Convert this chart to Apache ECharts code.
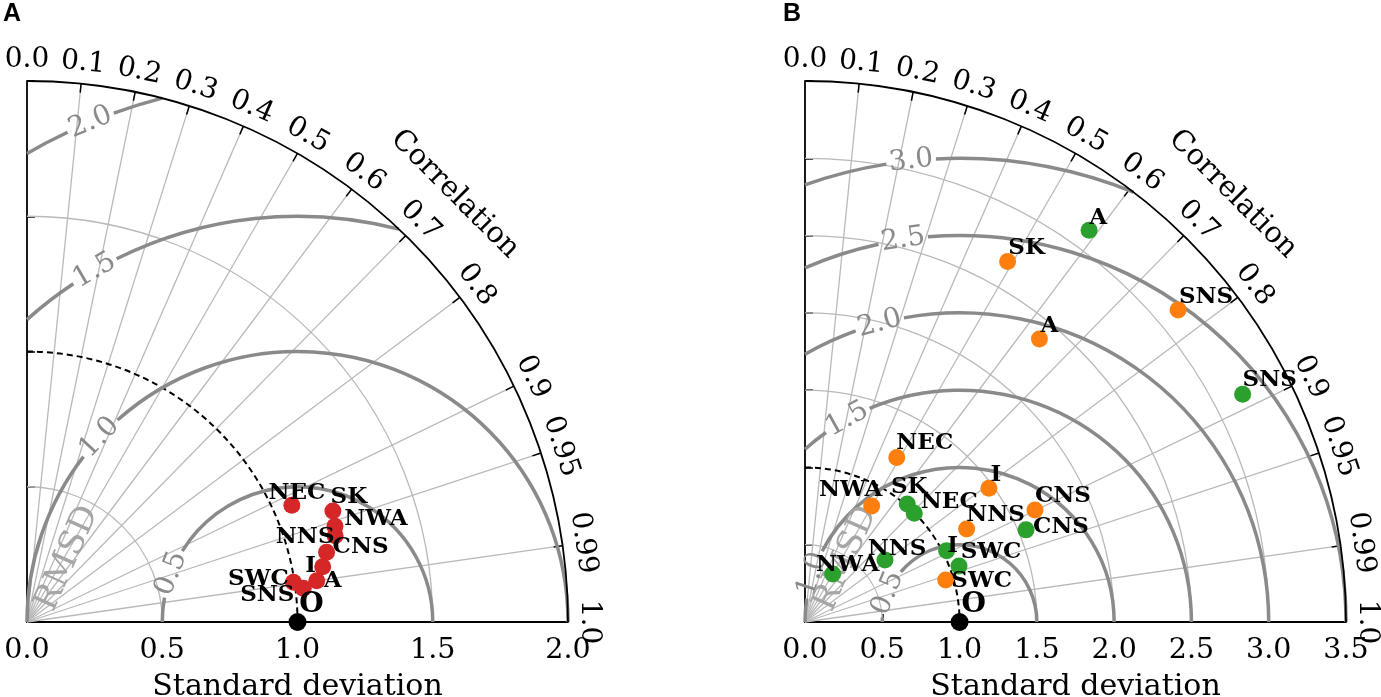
<!DOCTYPE html>
<html>
<head>
<meta charset="utf-8">
<script src="https://cdn.jsdelivr.net/npm/echarts@6/dist/echarts.min.js"></script>
<style>
  html, body { margin: 0; padding: 0; background: #fff; }
  #chart { width: 1381px; height: 697px; }
</style>
</head>
<body>
<div id="chart"></div>
<script>
// ---- data ----
const corrTicks = [0.0, 0.1, 0.2, 0.3, 0.4, 0.5, 0.6, 0.7, 0.8, 0.9, 0.95, 0.99, 1.0];
const refStd = 1.0;

// panel A
const maxStdA = 2.0;
const stdGridA = [0.5, 1.0, 1.5];
const rmsLevelsA = [0.5, 1.0, 1.5, 2.0];
const rmsLabelAtA = [159, 137, 120, 112.5];
const namesA = ['NEC', 'SK', 'NWA', 'NNS', 'CNS', 'I', 'A', 'SWC', 'SNS'];
const stdA = [1.070, 1.203, 1.192, 1.183, 1.137, 1.112, 1.082, 0.996, 1.029];
const corrA = [0.915, 0.940, 0.955, 0.963, 0.974, 0.983, 0.990, 0.989, 0.9926];
const labelOffA = [[5, -12], [16, -14], [41, -7], [-30, 1], [34, -5], [-12, -1], [16, 0], [-35, -3], [-36, 7]];

// panel B
const maxStdB = 3.5;
const stdGridB = [0.5, 1.0, 1.5, 2.0, 2.5, 3.0];
const rmsLevelsB = [0.5, 1.0, 1.5, 2.0, 2.5, 3.0];
const rmsLabelAtB = [158, 162, 119, 105, 98.4, 96];
const namesOrange = ['SK', 'SNS', 'A', 'NEC', 'I', 'CNS', 'NWA', 'NNS', 'SWC'];
const stdOrange = [2.675, 3.147, 2.377, 1.219, 1.471, 1.655, 0.866, 1.206, 0.950];
const corrOrange = [0.490, 0.767, 0.638, 0.487, 0.809, 0.899, 0.498, 0.867, 0.958];
const labelOffOrange = [[19, -14], [28, -13], [10, -13], [28, -14], [7, -13], [28, -14], [-21, -16], [29, -14], [36, 1]];
const namesGreen = ['A', 'SNS', 'SK', 'NEC', 'CNS', 'I', 'SWC', 'NNS', 'NWA'];
const stdGreen = [3.131, 3.192, 1.010, 0.997, 1.549, 1.026, 1.060, 0.655, 0.358];
const corrGreen = [0.587, 0.887, 0.655, 0.709, 0.923, 0.893, 0.940, 0.790, 0.500];
const labelOffGreen = [[9, -12], [27, -14], [2, -17], [35, -11], [35, -3], [6, -5], [32, -14], [12, -11], [15, -9]];

const rmsdTextA = [0.150, 0.235];
const rmsdTextB = [0.265, 0.410];

// ---- helpers ----
const SERIF = '"DejaVu Serif", serif';
const GRID_GRAY = '#b9b9b9';
const RMS_GRAY = '#8a8a8a';

function toXY(std, corr) {
  return [std * corr, std * Math.sqrt(1 - corr * corr)];
}

function arcShape(c, r, a1, a2) {
  // a1 < a2, math angles (counter-clockwise, y up)
  return { cx: c[0], cy: c[1], r: r, startAngle: -a2, endAngle: -a1, clockwise: true };
}

function stdArcSeries(idx, levels) {
  return {
    type: 'custom', xAxisIndex: idx, yAxisIndex: idx, silent: true, z: 2,
    data: levels.map(v => [v, 0]),
    renderItem: function (params, api) {
      const r = api.value(0);
      const o = api.coord([0, 0]);
      const s = api.size([1, 0])[0];
      const ref = r === refStd;
      return {
        type: 'arc', z2: ref ? 5 : 1,
        shape: arcShape(o, r * s, 0, Math.PI / 2),
        style: ref
          ? { stroke: '#000', lineWidth: 2, fill: 'none', lineDash: [6, 4] }
          : { stroke: GRID_GRAY, lineWidth: 1.3, fill: 'none' }
      };
    }
  };
}

function raySeries(idx, maxStd) {
  return {
    type: 'custom', xAxisIndex: idx, yAxisIndex: idx, silent: true, z: 2,
    data: corrTicks.map(c => [c, 0]),
    renderItem: function (params, api) {
      const c = api.value(0);
      const th = Math.acos(c);
      const o = api.coord([0, 0]);
      const R = maxStd * api.size([1, 0])[0];
      const cs = Math.cos(th), sn = Math.sin(th);
      const kids = [];
      if (c > 0 && c < 1) {
        kids.push({ type: 'line', shape: { x1: o[0], y1: o[1], x2: o[0] + R * cs, y2: o[1] - R * sn },
          style: { stroke: GRID_GRAY, lineWidth: 1.3 } });
        kids.push({ type: 'line', shape: { x1: o[0] + (R - 9) * cs, y1: o[1] - (R - 9) * sn, x2: o[0] + R * cs, y2: o[1] - R * sn },
          style: { stroke: '#000', lineWidth: 1.5 } });
      }
      const lr = R + 21;
      kids.push({
        type: 'text', x: o[0] + lr * cs, y: o[1] - lr * sn, rotation: th - Math.PI / 2,
        style: { text: (c === 0 || c === 1) ? c.toFixed(1) : String(c), font: '28px ' + SERIF,
          fill: '#000', align: 'center', verticalAlign: 'middle' }
      });
      return { type: 'group', children: kids };
    }
  };
}

function rmsSeries(idx, maxStd, levels, labelAt) {
  return {
    type: 'custom', xAxisIndex: idx, yAxisIndex: idx, silent: true, z: 3,
    data: levels.map(v => [v, 0]),
    renderItem: function (params, api) {
      const rho = api.value(0);
      const c = api.coord([refStd, 0]);
      const s = api.size([1, 0])[0];
      let lo = 0, hi = Math.PI;
      if (refStd + rho > maxStd) {
        const x = (maxStd * maxStd - rho * rho + refStd * refStd) / (2 * refStd);
        lo = Math.atan2(Math.sqrt(maxStd * maxStd - x * x), x - refStd);
      }
      if (rho > refStd) hi = Math.atan2(Math.sqrt(rho * rho - refStd * refStd), -refStd);
      const pl = labelAt[params.dataIndex] * Math.PI / 180;
      const rpx = rho * s;
      const gap = 25 / rpx;
      const st = { stroke: RMS_GRAY, lineWidth: 3.5, fill: 'none' };
      const kids = [];
      if (pl - gap > lo) kids.push({ type: 'arc', shape: arcShape(c, rpx, lo, pl - gap), style: st });
      if (pl + gap < hi) kids.push({ type: 'arc', shape: arcShape(c, rpx, pl + gap, hi), style: st });
      kids.push({
        type: 'text', x: c[0] + rpx * Math.cos(pl), y: c[1] - rpx * Math.sin(pl), rotation: pl - Math.PI / 2,
        style: { text: rho.toFixed(1), font: '28px ' + SERIF, fill: RMS_GRAY, align: 'center', verticalAlign: 'middle' }
      });
      return { type: 'group', children: kids };
    }
  };
}

function frameSeries(idx, maxStd, rmsdPos) {
  return {
    type: 'custom', xAxisIndex: idx, yAxisIndex: idx, silent: true, z: 4,
    data: [[maxStd, 0]],
    renderItem: function (params, api) {
      const o = api.coord([0, 0]);
      const R = maxStd * api.size([1, 0])[0];
      const p = api.coord(rmsdPos);
      const lr = R + 64;
      return {
        type: 'group', children: [
          { type: 'arc', shape: arcShape(o, R, 0, Math.PI / 2), style: { stroke: '#000', lineWidth: 1.8, fill: 'none' } },
          { type: 'text', x: o[0] + lr * Math.SQRT1_2, y: o[1] - lr * Math.SQRT1_2, rotation: -Math.PI / 4,
            style: { text: 'Correlation', font: '29px ' + SERIF, fill: '#000', align: 'center', verticalAlign: 'middle' } },
          { type: 'text', x: p[0], y: p[1], rotation: 66 * Math.PI / 180,
            style: { text: 'RMSD', font: '34px ' + SERIF, fill: '#a6a6a6', align: 'center', verticalAlign: 'middle' } }
        ]
      };
    }
  };
}

function pointSeries(idx, names, stds, corrs, offs, color) {
  return {
    type: 'scatter', xAxisIndex: idx, yAxisIndex: idx, z: 10,
    symbolSize: 17, itemStyle: { color: color, opacity: 1 },
    label: { show: true, position: 'inside', formatter: '{b}', color: '#000',
      fontFamily: SERIF, fontWeight: 'bold', fontSize: 23 },
    labelLayout: function (p) {
      const o = offs[p.dataIndex];
      return { dx: o[0], dy: o[1], hideOverlap: false };
    },
    data: names.map((n, i) => ({ name: n, value: toXY(stds[i], corrs[i]) }))
  };
}

function refPoint(idx) {
  return {
    type: 'scatter', xAxisIndex: idx, yAxisIndex: idx, z: 11,
    symbolSize: 18, itemStyle: { color: '#000', opacity: 1 },
    label: { show: true, position: 'inside', formatter: '{b}', color: '#000',
      fontFamily: SERIF, fontWeight: 'bold', fontSize: 28, offset: [14, -17] },
    data: [{ name: 'O', value: [refStd, 0] }]
  };
}

function xAxisFor(idx, maxStd) {
  return {
    gridIndex: idx, type: 'value', min: 0, max: maxStd, interval: 0.5,
    axisLine: { show: true, onZero: false, lineStyle: { color: '#000', width: 1.8 } },
    axisTick: { show: true, inside: true, length: 8, lineStyle: { color: '#000', width: 1.5 } },
    axisLabel: { fontFamily: SERIF, fontSize: 28.5, color: '#000', margin: 14, formatter: v => v.toFixed(1) },
    splitLine: { show: false },
    name: 'Standard deviation', nameLocation: 'middle', nameGap: 50,
    nameTextStyle: { fontFamily: SERIF, fontSize: 30, color: '#000' }
  };
}

function yAxisFor(idx, maxStd) {
  return {
    gridIndex: idx, type: 'value', min: 0, max: maxStd, interval: 0.5,
    axisLine: { show: true, onZero: false, lineStyle: { color: '#000', width: 1.8 } },
    axisTick: { show: true, inside: true, length: 8, lineStyle: { color: '#000', width: 1.5 } },
    axisLabel: { show: false },
    splitLine: { show: false }
  };
}

const chart = echarts.init(document.getElementById('chart'), null, { renderer: 'canvas' });

chart.setOption({
  animation: false,
  backgroundColor: '#fff',
  grid: [
    { left: 27, top: 81, width: 541, height: 541, outerBoundsMode: 'none', containLabel: false },
    { left: 805, top: 81, width: 541, height: 541, outerBoundsMode: 'none', containLabel: false }
  ],
  xAxis: [xAxisFor(0, maxStdA), xAxisFor(1, maxStdB)],
  yAxis: [yAxisFor(0, maxStdA), yAxisFor(1, maxStdB)],
  graphic: [
    { type: 'text', left: 3, top: 2, style: { text: 'A', font: 'bold 25px "Liberation Sans", Arial', fill: '#000' } },
    { type: 'text', left: 783, top: 2, style: { text: 'B', font: 'bold 25px "Liberation Sans", Arial', fill: '#000' } }
  ],
  series: [
    stdArcSeries(0, stdGridA),
    raySeries(0, maxStdA),
    rmsSeries(0, maxStdA, rmsLevelsA, rmsLabelAtA),
    frameSeries(0, maxStdA, rmsdTextA),
    pointSeries(0, namesA, stdA, corrA, labelOffA, '#d62728'),
    refPoint(0),

    stdArcSeries(1, stdGridB),
    raySeries(1, maxStdB),
    rmsSeries(1, maxStdB, rmsLevelsB, rmsLabelAtB),
    frameSeries(1, maxStdB, rmsdTextB),
    pointSeries(1, namesOrange, stdOrange, corrOrange, labelOffOrange, '#ff7f0e'),
    pointSeries(1, namesGreen, stdGreen, corrGreen, labelOffGreen, '#2ca02c'),
    refPoint(1)
  ]
});
</script>
</body>
</html>
